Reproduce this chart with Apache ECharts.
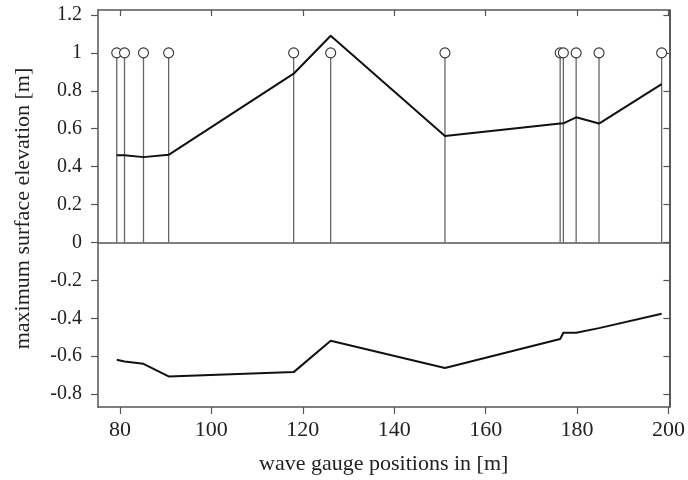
<!DOCTYPE html>
<html>
<head>
<meta charset="utf-8">
<script src="https://cdn.jsdelivr.net/npm/echarts@6/dist/echarts.min.js"></script>
<style>html,body{margin:0;padding:0;background:#fff}#c{width:688px;height:480px}</style>
</head>
<body>
<div id="c"></div>
<script>
// gauge positions [m]
var gaugeX = [79.3, 81.0, 85.15, 90.65, 118.0, 126.1, 151.1, 176.3, 177.0, 179.8, 184.8, 198.5];
// gauge marker level
var gaugeLevel = [1, 1, 1, 1, 1, 1, 1, 1, 1, 1, 1, 1];
// maximum surface elevation (crest)
var maxElev = [0.46, 0.46, 0.45, 0.462, 0.89, 1.09, 0.562, 0.627, 0.628, 0.66, 0.627, 0.835];
// minimum surface elevation (trough)
var minElev = [-0.619, -0.628, -0.64, -0.707, -0.684, -0.519, -0.662, -0.509, -0.476, -0.476, -0.452, -0.376];
var xTicks = [80, 100, 120, 140, 160, 180, 200];
var yTicks = [-0.8, -0.6, -0.4, -0.2, 0, 0.2, 0.4, 0.6, 0.8, 1, 1.2];

var FONT = 'Liberation Serif';
var chart = echarts.init(document.getElementById('c'), null, {renderer: 'canvas'});

var frameColor = '#555';

var option = {
  animation: false,
  backgroundColor: '#fff',
  grid: {left: 98, right: 14, top: 10, bottom: 71, containLabel: false},
  xAxis: [{
    type: 'value', position: 'bottom', min: 75.2, max: 200.2,
    name: 'wave gauge positions in [m]', nameLocation: 'middle', nameGap: 46,
    nameTextStyle: {fontFamily: FONT, fontSize: 22, color: '#222'},
    axisLine: {show: true, onZero: false, lineStyle: {color: frameColor, width: 1.5}},
    axisTick: {show: true, inside: false, length: 7, customValues: xTicks, lineStyle: {color: frameColor, width: 1.2}},
    axisLabel: {customValues: xTicks, margin: 12, fontFamily: FONT, fontSize: 22, color: '#222'},
    splitLine: {show: false}
  }, {
    type: 'value', position: 'top', min: 75.2, max: 200.2,
    axisLine: {show: true, onZero: false, lineStyle: {color: frameColor, width: 1.5}},
    axisTick: {show: true, inside: true, length: 6, customValues: xTicks, lineStyle: {color: frameColor, width: 1.2}},
    axisLabel: {show: false},
    splitLine: {show: false}
  }],
  yAxis: [{
    type: 'value', position: 'left', min: -0.868, max: 1.226,
    name: 'maximum surface elevation [m]', nameLocation: 'middle', nameGap: 64, nameRotate: 90,
    nameTextStyle: {fontFamily: FONT, fontSize: 22, color: '#222'},
    axisLine: {show: true, onZero: false, lineStyle: {color: frameColor, width: 1.5}},
    axisTick: {show: true, inside: false, length: 7, customValues: yTicks, lineStyle: {color: frameColor, width: 1.2}},
    axisLabel: {customValues: yTicks, margin: 16, fontFamily: FONT, fontSize: 20, color: '#222',
      formatter: function (v) { return String(Math.round(v * 10) / 10); }},
    splitLine: {show: false}
  }, {
    type: 'value', position: 'right', min: -0.868, max: 1.226,
    axisLine: {show: true, onZero: false, lineStyle: {color: '#222', width: 1.5}},
    axisTick: {show: true, inside: true, length: 6, customValues: yTicks, lineStyle: {color: frameColor, width: 1.2}},
    axisLabel: {show: false},
    splitLine: {show: false}
  }],
  series: [{
    type: 'custom',
    xAxisIndex: 0, yAxisIndex: 0,
    data: gaugeX.map(function (x, i) { return [x, gaugeLevel[i]]; }),
    encode: {x: 0, y: 1},
    z: 2,
    renderItem: function (params, api) {
      var top = api.coord([api.value(0), api.value(1)]);
      var base = api.coord([api.value(0), 0]);
      var r = 5;
      return {
        type: 'group',
        children: [{
          type: 'line',
          shape: {x1: base[0], y1: base[1], x2: top[0], y2: top[1] + r},
          style: {stroke: '#666', lineWidth: 1.3}
        }, {
          type: 'circle',
          shape: {cx: top[0], cy: top[1], r: r},
          style: {stroke: '#333', fill: '#fff', lineWidth: 1.1}
        }]
      };
    }
  }, {
    type: 'line',
    xAxisIndex: 0, yAxisIndex: 0,
    data: gaugeX.map(function (x, i) { return [x, maxElev[i]]; }),
    showSymbol: false, symbol: 'none',
    lineStyle: {color: '#111', width: 2},
    z: 3,
    markLine: {
      silent: true, symbol: 'none', label: {show: false},
      lineStyle: {color: frameColor, width: 1.5, type: 'solid'},
      data: [{yAxis: 0}]
    }
  }, {
    type: 'line',
    xAxisIndex: 0, yAxisIndex: 0,
    data: gaugeX.map(function (x, i) { return [x, minElev[i]]; }),
    showSymbol: false, symbol: 'none',
    lineStyle: {color: '#111', width: 2},
    z: 3
  }]
};
chart.setOption(option);
</script>
</body>
</html>
